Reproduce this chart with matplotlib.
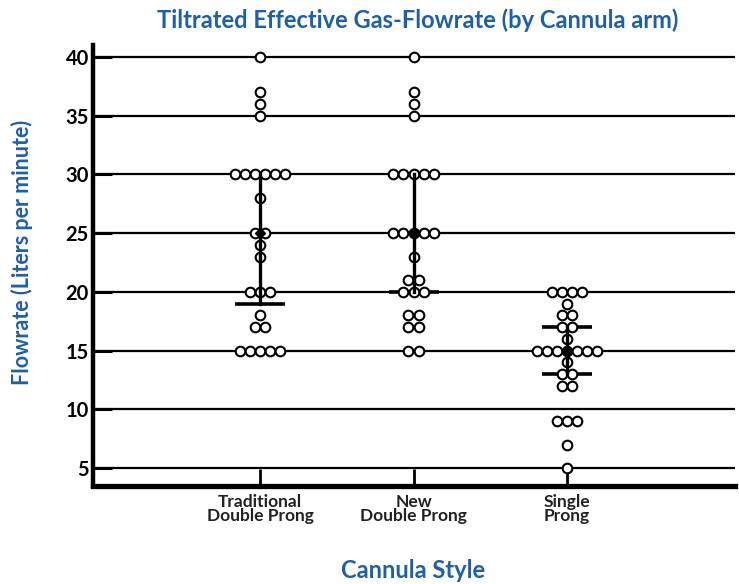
import matplotlib
matplotlib.use("Agg")
import matplotlib.pyplot as plt
import numpy as np
from collections import Counter

# ---- data ----
categories = ["Traditional\nDouble Prong", "New\nDouble Prong", "Single\nProng"]

traditional = [40, 37, 36, 35, 30, 30, 30, 30, 30, 30, 28, 25, 25, 24, 23,
               20, 20, 20, 18, 17, 17, 15, 15, 15, 15, 15]
new_double = [40, 37, 36, 35, 30, 30, 30, 30, 30, 25, 25, 25, 25, 25, 23,
              21, 21, 20, 20, 20, 18, 18, 17, 17, 15, 15]
single = [20, 20, 20, 20, 19, 18, 18, 17, 17, 16, 15, 15, 15, 15, 15, 15, 15,
          14, 13, 13, 12, 12, 9, 9, 9, 7, 5]

q1_values = [19, 20, 13]
median_values = [25, 25, 15]
q3_values = [30, 30, 17]

yticks = [5, 10, 15, 20, 25, 30, 35, 40]

title = "Tiltrated Effective Gas-Flowrate (by Cannula arm)"
ylabel = "Flowrate (Liters per minute)"
xlabel = "Cannula Style"

# ---- styling ----
BLUE = "#1f5fa8"
FONT = ["Lato", "DejaVu Sans"]
plt.rcParams["font.family"] = FONT

W, H = 739, 584
fig = plt.figure(figsize=(W / 100, H / 100), dpi=100)
fig.patch.set_facecolor("white")
ax = fig.add_axes([93 / W, 1 - 486 / H, (735 - 93) / W, (486 - 45) / H])

ax.set_xlim(-0.088, 4.094)
ax.set_ylim(3.467, 41.02)

# gridlines
for yv in yticks:
    ax.axhline(yv, color="black", lw=1.6, zorder=1)

groups = [traditional, new_double, single]
spacing = 0.066
cap_half = 0.163
for i, vals in enumerate(groups):
    xc = i + 1
    # caps behind circles
    for yv in (q1_values[i], q3_values[i]):
        ax.plot([xc - cap_half, xc + cap_half], [yv, yv], color="black",
                lw=2.6, solid_capstyle="butt", zorder=2)
    counts = Counter(vals)
    xs, ys = [], []
    for v, n in counts.items():
        for k in range(n):
            xs.append(xc + (k - (n - 1) / 2) * spacing)
            ys.append(v)
    ax.scatter(xs, ys, s=48, facecolor="white", edgecolor="black",
               linewidth=1.5, zorder=3)
    # vertical error line over circles
    ax.plot([xc, xc], [q1_values[i], q3_values[i]], color="black", lw=2.4,
            zorder=4)
    ax.plot([xc], [median_values[i]], marker="D", ms=5, color="black",
            zorder=5)

# axes styling
for s in ["top", "right"]:
    ax.spines[s].set_visible(False)
ax.spines["left"].set_linewidth(3.2)
ax.spines["bottom"].set_linewidth(3.8)

ax.set_yticks(yticks)
ax.set_yticklabels([str(v) for v in yticks], fontsize=14.5, fontweight="bold")
ax.tick_params(axis="y", direction="in", length=14, width=2.2, pad=3)

ax.set_xticks([1, 2, 3])
ax.set_xticklabels(categories, fontsize=12.5, fontweight="bold",
                   color="#222222", linespacing=0.85)
ax.tick_params(axis="x", direction="in", length=12, width=2, pad=6)

fig.text(22 / W, 1 - 252 / H, ylabel, rotation=90, ha="center", va="center",
         fontsize=15.5, fontweight="bold", color=BLUE)
fig.text(413 / W, 1 - 571 / H, xlabel, ha="center", va="center",
         fontsize=17, fontweight="bold", color=BLUE)
fig.text(418 / W, 1 - 20 / H, title, ha="center", va="center",
         fontsize=17, fontweight="bold", color=BLUE)

fig.savefig("out.png", dpi=100, facecolor="white")
